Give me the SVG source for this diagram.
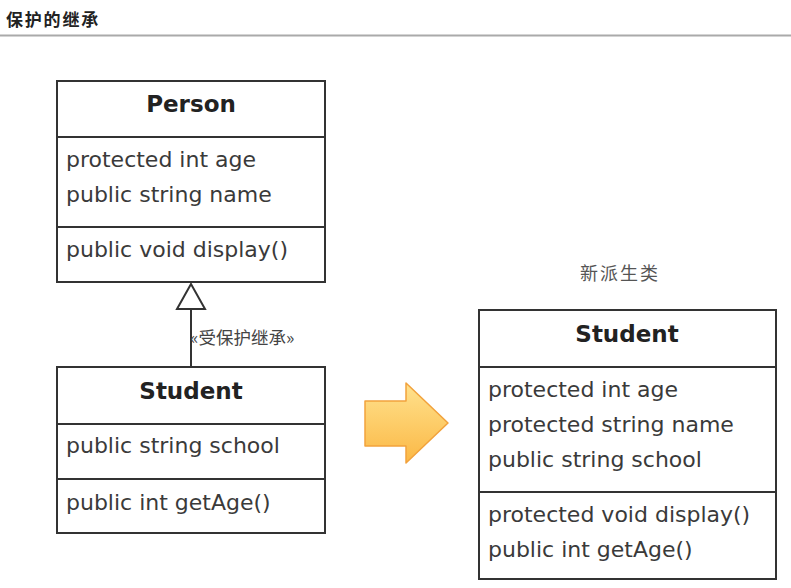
<svg xmlns="http://www.w3.org/2000/svg" width="791" height="588" viewBox="0 0 791 588">
<defs>
<linearGradient id="og" x1="0" y1="0" x2="0" y2="1">
<stop offset="0" stop-color="#ffe28e"/>
<stop offset="1" stop-color="#fbb845"/>
</linearGradient>
<style>
.box{fill:#fff;stroke:#333;stroke-width:2}
.div{stroke:#333;stroke-width:2}
.title{font-family:"DejaVu Sans",sans-serif;font-weight:bold;font-size:23px;fill:#222;text-anchor:middle}
.mem{font-family:"DejaVu Sans",sans-serif;font-size:22px;fill:#3a3a3a}
.cjk{font-family:"Noto Sans CJK SC",sans-serif}
</style>
</defs>
<rect width="791" height="588" fill="#fff"/>
<text x="6" y="26" class="cjk" font-size="17" font-weight="bold" letter-spacing="1.8" fill="#222">保护的继承</text>
<line x1="0" y1="35.5" x2="791" y2="35.5" stroke="#aaa" stroke-width="2"/>

<g id="person">
<rect class="box" x="57" y="81" width="268" height="201"/>
<line class="div" x1="57" y1="137" x2="325" y2="137"/>
<line class="div" x1="57" y1="227" x2="325" y2="227"/>
<text class="title" x="191" y="112">Person</text>
<text class="mem" x="66" y="167">protected int age</text>
<text class="mem" x="66" y="202">public string name</text>
<text class="mem" x="66" y="257">public void display()</text>
</g>

<g id="student-left">
<rect class="box" x="57" y="367" width="268" height="166"/>
<line class="div" x1="57" y1="424" x2="325" y2="424"/>
<line class="div" x1="57" y1="479" x2="325" y2="479"/>
<text class="title" x="191" y="399">Student</text>
<text class="mem" x="66" y="453">public string school</text>
<text class="mem" x="66" y="510">public int getAge()</text>
</g>

<g id="connectors">
<line x1="191" y1="309" x2="191" y2="367" stroke="#333" stroke-width="2"/>
<polygon points="191,284 177,309 205,309" fill="#fff" stroke="#333" stroke-width="2"/>
<text x="190" y="344" class="cjk" font-size="17.5" fill="#444">«受保护继承»</text>
</g>

<g id="arrow">
<polygon points="365,401 406,401 406,383 448,423 406,463 406,446 365,446" fill="url(#og)" stroke="#f2a23c" stroke-width="1.5" stroke-linejoin="round"/>
</g>

<text x="620" y="280" class="cjk" font-size="18" letter-spacing="2" fill="#555" text-anchor="middle">新派生类</text>

<g id="student-right">
<rect class="box" x="479" y="310" width="297" height="269"/>
<line class="div" x1="479" y1="367" x2="776" y2="367"/>
<line class="div" x1="479" y1="492" x2="776" y2="492"/>
<text class="title" x="627" y="342">Student</text>
<text class="mem" x="488" y="397">protected int age</text>
<text class="mem" x="488" y="432">protected string name</text>
<text class="mem" x="488" y="467">public string school</text>
<text class="mem" x="488" y="522">protected void display()</text>
<text class="mem" x="488" y="557">public int getAge()</text>
</g>
</svg>
